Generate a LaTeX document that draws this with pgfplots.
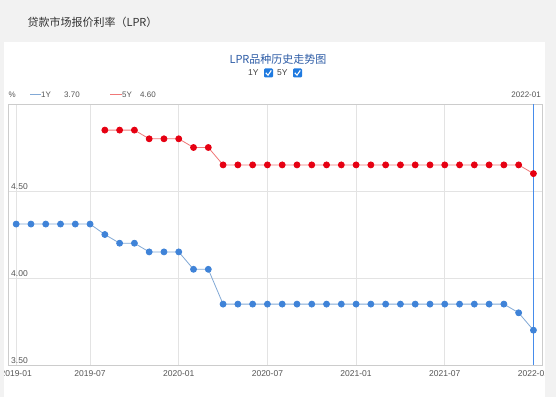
\documentclass[border=0pt]{standalone}
\usepackage{pgfplots}
\pgfplotsset{compat=1.18}
\usepackage{fontspec}
\setmainfont{Liberation Sans}
\newfontfamily\cjk{Noto Sans CJK SC}
\definecolor{bggray}{HTML}{F2F2F2}
\definecolor{gridc}{HTML}{E3E3E3}
\definecolor{framec}{HTML}{CCCCCC}
\definecolor{bluel}{HTML}{82A9D6}
\definecolor{bluem}{HTML}{3F83D8}
\definecolor{redl}{HTML}{F07878}
\definecolor{redm}{HTML}{E60012}
\definecolor{titleblue}{HTML}{2D5CA6}
\definecolor{boxblue}{HTML}{1F7AE0}
\definecolor{txt}{HTML}{555555}
\definecolor{cursblue}{RGB}{70,140,235}
\begin{document}
\begin{tikzpicture}[x=1pt,y=1pt]
\useasboundingbox (0,0) rectangle (556,397);
\clip (0,0) rectangle (556,397);
\fill[bggray] (0,0) rectangle (556,397);
\fill[white] (4,0) rectangle (545,355);
% page title
\node[anchor=west,text=black!80,font=\cjk\fontsize{11}{12}\selectfont] at (24,375) {贷款市场报价利率（LPR）};
% chart title
\node[text=titleblue,font=\cjk\fontsize{11}{12}\selectfont] at (278,338) {LPR品种历史走势图};
\node[anchor=east,text=black!75,font=\fontsize{8.5}{9}\selectfont] at (262,324) {1Y};
\fill[boxblue,rounded corners=1.2pt] (264,319.5) rectangle (273,328.5);
\draw[white,line width=1.1pt] (265.8,324.2) -- (268,321.8) -- (271.3,326.6);
\node[anchor=east,text=black!75,font=\fontsize{8.5}{9}\selectfont] at (291,324) {5Y};
\fill[boxblue,rounded corners=1.2pt] (293,319.5) rectangle (302,328.5);
\draw[white,line width=1.1pt] (294.8,324.2) -- (297,321.8) -- (300.3,326.6);
% header row
\begin{scope}[font=\fontsize{8}{9}\selectfont,text=txt]
\node[anchor=west] at (5,302) {\%};
\draw[bluel,line width=1pt] (30,302) -- (41,302);
\node[anchor=west,inner sep=0pt] at (41,302) {1Y};
\node[anchor=west,inner sep=0pt] at (64,302) {3.70};
\draw[redl,line width=1pt] (110,302) -- (122,302);
\node[anchor=west,inner sep=0pt] at (122,302) {5Y};
\node[anchor=west,inner sep=0pt] at (140,302) {4.60};
\node[anchor=east,inner sep=0pt] at (541,302) {2022-01};
\end{scope}
\begin{axis}[
  at={(8pt,32pt)}, anchor=south west,
  width=534pt, height=261pt, scale only axis,
  xmin=0.447, xmax=36.58, ymin=3.5, ymax=5.0,
  axis line style={framec},
  xtick={1,6,12,18,24,30,36},
  xticklabels={2019-01,2019-07,2020-01,2020-07,2021-01,2021-07,2022-01},
  ytick={3.5,4.0,4.5},
  yticklabel style={anchor=south west,inner sep=1pt,xshift=2pt,yshift=0pt},
  yticklabel={\pgfmathprintnumber[fixed,fixed zerofill,precision=2]{\tick}},
  ticklabel style={font=\fontsize{8.5}{9}\selectfont,text=txt},
  xticklabel style={yshift=-2pt},
  major tick length=0pt,
  grid=major,
  grid style={gridc,line width=0.8pt},
  /pgf/number format/assume math mode=true,
  clip=false,
]
\addplot[draw=cursblue,line width=1.6pt,mark=none,forget plot] coordinates {(36,3.5)(36,5.0)};
\addplot[bluel,line width=0.8pt,mark=*,mark size=3pt,mark options={fill=bluem,draw=bluem}] coordinates {
(1,4.31)(2,4.31)(3,4.31)(4,4.31)(5,4.31)(6,4.31)(7,4.25)(8,4.20)(9,4.20)(10,4.15)(11,4.15)(12,4.15)(13,4.05)(14,4.05)
(15,3.85)(16,3.85)(17,3.85)(18,3.85)(19,3.85)(20,3.85)(21,3.85)(22,3.85)(23,3.85)(24,3.85)(25,3.85)(26,3.85)(27,3.85)(28,3.85)(29,3.85)(30,3.85)(31,3.85)(32,3.85)(33,3.85)(34,3.85)
(35,3.80)(36,3.70)};
\addplot[redl,line width=0.8pt,mark=*,mark size=3pt,mark options={fill=redm,draw=redm}] coordinates {
(7,4.85)(8,4.85)(9,4.85)(10,4.80)(11,4.80)(12,4.80)(13,4.75)(14,4.75)
(15,4.65)(16,4.65)(17,4.65)(18,4.65)(19,4.65)(20,4.65)(21,4.65)(22,4.65)(23,4.65)(24,4.65)(25,4.65)(26,4.65)(27,4.65)(28,4.65)(29,4.65)(30,4.65)(31,4.65)(32,4.65)(33,4.65)(34,4.65)(35,4.65)
(36,4.60)};
\end{axis}
\fill[bggray] (544.5,0) rectangle (556,397);
\fill[bggray] (0,0) rectangle (3.5,397);
\end{tikzpicture}
\end{document}
